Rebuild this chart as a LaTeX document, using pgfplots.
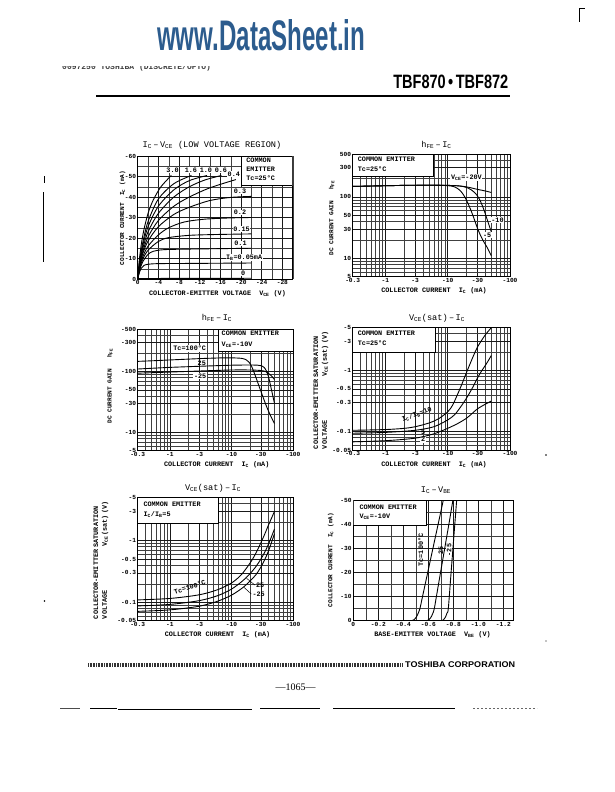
\documentclass[border=0pt]{standalone}
\usepackage{fontspec}
\setmainfont{Liberation Serif}
\setsansfont{Liberation Sans}
\setmonofont{Liberation Mono}
\usepackage{pgfplots}
\pgfplotsset{compat=1.18}
\definecolor{dsblue}{RGB}{44,92,142}
\newcommand\dsTick{\ttfamily\bfseries\fontsize{6.2}{7}\selectfont}
\newcommand\dsLab{\ttfamily\bfseries\fontsize{6.8}{8.7}\selectfont}
\newcommand\dsLabS{\ttfamily\bfseries\fontsize{6.1}{7}\selectfont}
\newcommand\dsTitle{\ttfamily\fontsize{8.6}{10}\selectfont}
\pgfplotsset{
 dsbase/.style={scale only axis, anchor=south west,
  axis line style={line width=0.8pt},
  major tick length=0pt, minor tick length=0pt,
  grid=both,
  major grid style={line width=0.5pt, black!90},
  minor grid style={line width=0.35pt, black!75},
  tick label style={font=\dsTick},
  xticklabel style={inner sep=1.5pt},
  yticklabel style={inner sep=1.5pt}},
 dscurve/.style={black, line width=0.9pt, smooth, tension=0.5, mark=none},
 dslogx/.style={xmin=0.3, xmax=100,
  xtick={0.3,1,3,10,30,100}, xticklabels={-0.3,-1,-3,-10,-30,-100},
  minor xtick={0.4,0.5,0.6,0.7,0.8,0.9,2,4,5,6,7,8,9,20,40,50,60,70,80,90}},
 dsvsat/.style={ymin=0.05, ymax=5,
  ytick={0.05,0.1,0.3,0.5,1,3,5}, yticklabels={-0.05,-0.1,-0.3,-0.5,-1,-3,-5},
  minor ytick={0.06,0.07,0.08,0.09,0.2,0.4,0.6,0.7,0.8,0.9,2,4}}
}
\begin{document}
\begin{tikzpicture}
% ---------------- page decorations ----------------
\begin{scope}[x=1pt,y=-1pt]
 \path (0,0) rectangle (614,792);
 \node[anchor=south west, inner sep=0, text=dsblue] at (157,51.5) {\resizebox{208pt}{31pt}{\sffamily\bfseries www.DataSheet.in}};
 \begin{scope}
  \clip (60,66.3) rectangle (236,71);
  \node[anchor=base west, inner sep=0, text=black!75] at (62,69.5) {\ttfamily\bfseries\fontsize{8}{9}\selectfont 0097250 TOSHIBA (DISCRETE/OPTO)};
 \end{scope}
 \node[anchor=south east, inner sep=0] at (508.5,88.5) {\resizebox{115pt}{13.5pt}{\sffamily\bfseries TBF870\,•\,TBF872}};
 \draw[line width=2.2pt] (96,96) -- (510,96);
 \draw[line width=0.8pt] (579,22) -- (579,8) -- (585,8);
 \draw[line width=0.9pt] (43,192) -- (43,262);
 \draw[line width=0.9pt] (44.5,176) -- (44.5,183);
 \fill (44.5,601) circle (0.8);
 \fill (546,455) circle (0.8);
 \fill (546,641) circle (0.6);
 \draw[line width=4.2pt, black!80, dash pattern=on 0.9pt off 0.7pt] (88,665) -- (403,665);
 \node[anchor=west, inner sep=0] at (405,665) {\resizebox{110pt}{5.8pt}{\sffamily\bfseries TOSHIBA CORPORATION}};
 \node at (295.5,687) {\fontsize{10}{12}\selectfont —1065—};
 \draw[line width=0.5pt, black!70] (60,708.5) -- (80,708.5);
 \draw[line width=0.6pt] (90,708.5) -- (117,708.5);
 \draw[line width=0.9pt] (118,709) -- (252,709);
 \draw[line width=0.7pt] (260,708.5) -- (320,708.5);
 \draw[line width=0.9pt] (333,708.5) -- (455,708.5);
 \draw[line width=0.4pt, dash pattern=on 2pt off 2pt, black!60] (473,708) -- (537,708);
 % titles
 \node[font=\dsTitle] at (212,145) {I\textsubscript{C}\,–\,V\textsubscript{CE} (LOW VOLTAGE REGION)};
 \node[font=\dsTitle] at (436.5,145) {h\textsubscript{FE}\,–\,I\textsubscript{C}};
 \node[font=\dsTitle] at (217,318) {h\textsubscript{FE}\,–\,I\textsubscript{C}};
 \node[font=\dsTitle] at (437,318) {V\textsubscript{CE}(sat)\,–\,I\textsubscript{C}};
 \node[font=\dsTitle] at (213,488) {V\textsubscript{CE}(sat)\,–\,I\textsubscript{C}};
 \node[font=\dsTitle] at (436,490) {I\textsubscript{C}\,–\,V\textsubscript{BE}};
 % x labels
 \node[font=\dsLab] at (217.5,293.5) {COLLECTOR-EMITTER VOLTAGE\ \ V\textsubscript{CE}\ (V)};
 \node[font=\dsLab] at (434,291) {COLLECTOR CURRENT\ \ I\textsubscript{C}\ (mA)};
 \node[font=\dsLab] at (216.7,464.5) {COLLECTOR CURRENT\ \ I\textsubscript{C}\ (mA)};
 \node[font=\dsLab] at (434,464.5) {COLLECTOR CURRENT\ \ I\textsubscript{C}\ (mA)};
 \node[font=\dsLab] at (217.5,635) {COLLECTOR CURRENT\ \ I\textsubscript{C}\ (mA)};
 \node[font=\dsLab] at (432.5,635) {BASE-EMITTER VOLTAGE\ \ V\textsubscript{BE}\ (V)};
 % y labels
 \node[font=\dsLabS, rotate=90] at (122.5,218) {COLLECTOR CURRENT\ \ I\textsubscript{C}\ (mA)};
 \node[font=\dsLabS, rotate=90] at (331.7,218) {DC CURRENT GAIN\ \ \ h\textsubscript{FE}};
 \node[font=\dsLabS, rotate=90] at (110,386) {DC CURRENT GAIN\ \ \ h\textsubscript{FE}};
 \node[font=\dsLab, rotate=90, text width=118pt, align=left, inner sep=0] at (321,390) {COLLECTOR-EMITTER SATURATION\\VOLTAGE\hfill V\textsubscript{CE}(sat)\ (V)\hspace*{6pt}};
 \node[font=\dsLab, rotate=90, text width=118pt, align=left, inner sep=0] at (101,560) {COLLECTOR-EMITTER SATURATION\\VOLTAGE\hfill V\textsubscript{CE}(sat)\ (V)\hspace*{6pt}};
 \node[font=\dsLabS, rotate=90] at (330.7,560) {COLLECTOR CURRENT\ \ I\textsubscript{C}\ (mA)};
\end{scope}

% ---------------- chart 1: IC - VCE ----------------
\begin{axis}[dsbase, at={(137.7pt,-279pt)}, width=155pt, height=123pt,
 xmin=0, xmax=30, ymin=0, ymax=60,
 xtick={0,4,8,12,16,20,24,28}, xticklabels={0,-4,-8,-12,-16,-20,-24,-28},
 minor xtick={2,6,10,14,18,22,26,30},
 ytick={0,10,20,30,40,50,60}, yticklabels={0,-10,-20,-30,-40,-50,-60},
 minor ytick={5,15,25,35,45,55}]
 \draw[fill=white, line width=0.5pt] (axis cs:20,45.5) rectangle (axis cs:30,60);
 \node[anchor=north west, align=left, font=\dsLab, inner sep=0] at (axis cs:21,59) {COMMON\\EMITTER\\Tc=25°C};
 \node[font=\dsLab, fill=white, inner sep=0.6pt] at (axis cs:6.75,53) {3.0};
 \node[font=\dsLab, fill=white, inner sep=0.6pt] at (axis cs:10.3,53) {1.6};
 \node[font=\dsLab, fill=white, inner sep=0.6pt] at (axis cs:13.2,53) {1.0};
 \node[font=\dsLab, fill=white, inner sep=0.6pt] at (axis cs:16.1,53) {0.6};
 \node[font=\dsLab, fill=white, inner sep=0.6pt] at (axis cs:18.6,51.3) {0.4};
 \node[font=\dsLab, fill=white, inner sep=0.6pt] at (axis cs:19.8,42.8) {0.3};
 \node[font=\dsLab, fill=white, inner sep=0.6pt] at (axis cs:19.8,32.4) {0.2};
 \node[font=\dsLab, fill=white, inner sep=0.6pt] at (axis cs:20.1,24.3) {0.15};
 \node[font=\dsLab, fill=white, inner sep=0.6pt] at (axis cs:19.9,17.3) {0.1};
 \node[font=\dsLab, fill=white, inner sep=0.6pt] at (axis cs:20.6,10.6) {I\textsubscript{B}=0.05mA};
 \node[font=\dsLab, fill=white, inner sep=0.6pt] at (axis cs:20.4,2.9) {0};
 \addplot[dscurve] coordinates {(0,0.25)(22,0.35)};
 \addplot[dscurve] coordinates {(0,0)(0.3,3)(0.7,5.3)(1.2,6.6)(2,7.2)(4,7.5)(10,7.6)(22,7.8)};
 \addplot[dscurve] coordinates {(0,0)(0.4,4.5)(1,8.5)(2,12)(3,13.5)(5,14.3)(10,14.6)(22,15)};
 \addplot[dscurve] coordinates {(0,0)(0.5,6)(1,9.8)(2,14)(4,18.3)(6,20.2)(10,21.3)(15,21.7)(22,22)};
 \addplot[dscurve] coordinates {(0,0)(0.5,7)(1,11)(2,16)(4,21.5)(6,25)(9,27.8)(13,29.2)(18,29.8)(22,30)};
 \addplot[dscurve] coordinates {(0,0)(0.5,7.8)(1,12.5)(2,18.5)(4,25.5)(7,31.5)(10,35)(14,38.3)(18,39.8)(22,40.3)};
 \addplot[dscurve] coordinates {(0,0)(0.5,8.5)(1,13.5)(2,20.5)(4,28.5)(7,35.5)(10,40)(14,44.5)(19,48.5)};
 \addplot[dscurve] coordinates {(0,0)(0.5,9)(1,15)(2,23)(4,32)(7,40)(10,45)(13,48.3)(16.2,50.5)};
 \addplot[dscurve] coordinates {(0,0)(0.5,10)(1,16.5)(2,25.5)(4,35.5)(7,43.5)(10,48)(13.4,50.5)};
 \addplot[dscurve] coordinates {(0,0)(0.5,11)(1,18)(2,28)(4,39)(7,46.5)(10.4,50.5)};
 \addplot[dscurve] coordinates {(0,0)(0.3,9)(0.7,17)(1.2,24)(2,32)(3,38.5)(4.5,45)(6.5,50.5)};
\end{axis}

% ---------------- chart 2: hFE - IC ----------------
\begin{axis}[dsbase, xmode=log, ymode=log, dslogx, at={(352.7pt,-276.7pt)}, width=157.3pt, height=122.7pt,
 ymin=5, ymax=500,
 ytick={5,10,30,50,100,300,500}, yticklabels={5,10,30,50,100,300,500},
 minor ytick={6,7,8,9,20,40,60,70,80,90,200,400}]
 \draw[fill=white, line width=0.5pt] (axis cs:0.3,213) rectangle (axis cs:5.9,500);
 \node[anchor=west, font=\dsLab, inner sep=0] at (axis cs:0.36,410) {COMMON EMITTER};
 \node[anchor=west, font=\dsLab, inner sep=0] at (axis cs:0.36,281) {Tc=25°C};
 \node[font=\dsLab, fill=white, inner sep=0.6pt] at (axis cs:20,208) {V\textsubscript{CE}=-20V};
 \node[font=\dsLab, fill=white, inner sep=0.6pt] at (axis cs:63,42) {-10};
 \node[font=\dsLab, fill=white, inner sep=0.6pt] at (axis cs:43,24) {-5};
 \addplot[dscurve] coordinates {(0.3,148)(0.5,150)(1,152)(2,154)(3,155)(5,155)(8,155)(10,154)(14,152)(18,148)(22,143)(27,136)(33,130)(40,125)(50,118)};
 \addplot[dscurve] coordinates {(0.3,148)(1,152)(3,155)(8,155)(12,153)(15,151)(18,147)(21,140)(24,130)(27,118)(30,104)(33,88)(36,72)(39,58)(42,46)(46,35)(50,27)};
 \addplot[dscurve] coordinates {(0.3,148)(1,152)(3,155)(8,154)(11,151)(13,145)(15,133)(17,117)(19,98)(21,80)(24,58)(27,42)(30,31)(34,23)(38,18.5)(43,15)(50,11)};
\end{axis}

% ---------------- chart 3: hFE - IC vs Tc ----------------
\begin{axis}[dsbase, xmode=log, ymode=log, dslogx, at={(137.7pt,-450.7pt)}, width=155.3pt, height=121.7pt,
 ymin=5, ymax=500,
 ytick={5,10,30,50,100,300,500}, yticklabels={-5,-10,-30,-50,-100,-300,-500},
 minor ytick={6,7,8,9,20,40,60,70,80,90,200,400}]
 \draw[fill=white, line width=0.5pt] (axis cs:6.1,212) rectangle (axis cs:100,500);
 \node[anchor=west, font=\dsLab, inner sep=0] at (axis cs:6.9,425) {COMMON EMITTER};
 \node[anchor=west, font=\dsLab, inner sep=0] at (axis cs:6.9,280) {V\textsubscript{CE}=-10V};
 \node[font=\dsLab, fill=white, inner sep=1.2pt] at (axis cs:2.1,241) {Tc=100°C};
 \node[font=\dsLab, inner sep=0.6pt] at (axis cs:3.3,137) {25};
 \node[font=\dsLab, fill=white, inner sep=0.8pt] at (axis cs:3.1,84) {-25};
 \addplot[dscurve] coordinates {(0.3,147)(0.5,150)(1,155)(2,160)(3,163)(5,166)(8,168)(12,167)(15,164)(17,158)(19,145)(21,125)(23,100)(25,80)(28,58)(32,40)(37,27)(43,19)(50,14)};
 \addplot[dscurve] coordinates {(0.3,110)(0.5,113)(1,117)(3,122)(10,127)(20,128)(27,127)(31,124)(34,117)(37,102)(40,82)(43,60)(46,44)(50,30)};
 \addplot[dscurve] coordinates {(0.3,94)(1,98)(3,102)(10,106)(20,106)(30,104)(36,100)(40,93)(45,84)(50,74)};
\end{axis}

% ---------------- chart 4: VCE(sat) - IC ----------------
\begin{axis}[dsbase, xmode=log, ymode=log, dslogx, dsvsat, at={(352.7pt,-450pt)}, width=157.3pt, height=122.3pt]
 \draw[fill=white, line width=0.5pt] (axis cs:0.3,2.0) rectangle (axis cs:6.3,5);
 \node[anchor=west, font=\dsLab, inner sep=0] at (axis cs:0.36,4.05) {COMMON EMITTER};
 \node[anchor=west, font=\dsLab, inner sep=0] at (axis cs:0.36,2.84) {Tc=25°C};
 \node[font=\dsLab, rotate=20, inner sep=0.5pt] at (axis cs:3.2,0.19) {I\textsubscript{C}/I\textsubscript{B}=10};
 \node[font=\dsLab, inner sep=0.5pt] at (axis cs:4.05,0.098) {5};
 \node[font=\dsLab, fill=white, inner sep=1pt] at (axis cs:4.05,0.074) {2};
 \addplot[dscurve] coordinates {(0.3,0.105)(1,0.108)(2,0.113)(3,0.12)(5,0.138)(7,0.16)(10,0.21)(12,0.27)(14,0.38)(16,0.52)(18,0.7)(20,0.92)(23,1.3)(26,1.75)(30,2.4)(35,3.1)(40,3.8)(45,4.4)(50,5)};
 \addplot[dscurve] coordinates {(0.3,0.094)(1,0.097)(3,0.105)(6,0.12)(10,0.155)(13,0.19)(16,0.25)(20,0.35)(25,0.52)(30,0.75)(35,0.98)(40,1.2)(45,1.45)(50,1.75)};
 \addplot[dscurve] coordinates {(0.3,0.068)(1,0.071)(3,0.078)(6,0.092)(10,0.113)(15,0.138)(20,0.165)(25,0.2)(30,0.235)(40,0.28)(50,0.315)};
\end{axis}

% ---------------- chart 5: VCE(sat) - IC vs Tc ----------------
\begin{axis}[dsbase, xmode=log, ymode=log, dslogx, dsvsat, at={(137.7pt,-620.7pt)}, width=155.3pt, height=123pt]
 \draw[fill=white, line width=0.5pt] (axis cs:0.3,1.9) rectangle (axis cs:6.1,5);
 \node[anchor=west, font=\dsLab, inner sep=0] at (axis cs:0.37,3.95) {COMMON EMITTER};
 \node[anchor=west, font=\dsLab, inner sep=0] at (axis cs:0.37,2.69) {I\textsubscript{C}/I\textsubscript{B}=5};
 \node[font=\dsLab, rotate=18, inner sep=0.5pt] at (axis cs:2.1,0.175) {Tc=100°C};
 \draw[line width=0.5pt] (axis cs:17.6,0.245) -- (axis cs:24,0.19) node[right, font=\dsLab, inner sep=1pt] {25};
 \draw[line width=0.5pt] (axis cs:15.9,0.175) -- (axis cs:21,0.136) node[right, font=\dsLab, inner sep=1pt] {-25};
 \addplot[dscurve] coordinates {(0.3,0.109)(1,0.115)(3,0.132)(6,0.16)(10,0.205)(14,0.27)(18,0.37)(22,0.5)(26,0.68)(30,0.92)(35,1.3)(40,1.8)(45,2.35)(50,3.0)};
 \addplot[dscurve] coordinates {(0.3,0.087)(1,0.092)(3,0.106)(6,0.128)(10,0.163)(15,0.22)(20,0.29)(25,0.38)(30,0.5)(35,0.66)(40,0.88)(45,1.18)(50,1.55)};
 \addplot[dscurve] coordinates {(0.3,0.071)(1,0.075)(3,0.086)(6,0.104)(10,0.13)(15,0.17)(20,0.22)(25,0.28)(30,0.37)(35,0.5)(40,0.68)(45,0.95)(50,1.3)};
\end{axis}

% ---------------- chart 6: IC - VBE ----------------
\begin{axis}[dsbase, at={(353.3pt,-620.7pt)}, width=160pt, height=120.7pt,
 xmin=0, xmax=1.28, ymin=0, ymax=50,
 xtick={0,0.2,0.4,0.6,0.8,1.0,1.2}, xticklabels={0,-0.2,-0.4,-0.6,-0.8,-1.0,-1.2},
 minor xtick={0.1,0.3,0.5,0.7,0.9,1.1},
 ytick={0,10,20,30,40,50}, yticklabels={0,-10,-20,-30,-40,-50},
 minor ytick={5,15,25,35,45}]
 \draw[fill=white, line width=0.5pt] (axis cs:0,39.6) rectangle (axis cs:0.587,50);
 \node[anchor=west, font=\dsLab, inner sep=0] at (axis cs:0.048,46.8) {COMMON EMITTER};
 \node[anchor=west, font=\dsLab, inner sep=0] at (axis cs:0.048,43.1) {V\textsubscript{CE}=-10V};
 \node[font=\dsLab, rotate=90, inner sep=0.5pt] at (axis cs:0.54,29.3) {Tc=100°C};
 \node[font=\dsLab, rotate=90, inner sep=0.5pt] at (axis cs:0.70,29) {25};
 \node[font=\dsLab, rotate=90, fill=white, inner sep=0.5pt] at (axis cs:0.766,29.3) {-25};
 \addplot[dscurve] coordinates {(0.465,0)(0.485,0.4)(0.50,1.2)(0.515,2.6)(0.533,5)(0.55,9.1)(0.60,21.1)(0.65,33.1)(0.70,45.1)(0.72,50)};
 \addplot[dscurve] coordinates {(0.585,0)(0.605,0.4)(0.62,1.3)(0.635,2.9)(0.648,5)(0.67,11.6)(0.72,26.6)(0.77,41.6)(0.797,50)};
 \addplot[dscurve] coordinates {(0.705,0)(0.722,0.4)(0.736,1.4)(0.75,3.2)(0.76,5)(0.78,18.4)(0.80,31.9)(0.827,50)};
\end{axis}
\end{tikzpicture}
\end{document}
